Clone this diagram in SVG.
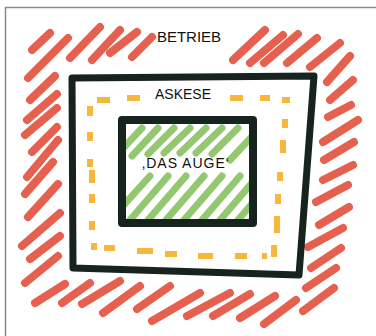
<svg xmlns="http://www.w3.org/2000/svg" width="376" height="336" viewBox="0 0 376 336">
<defs>
<style>
.red line{stroke:#e5604f;stroke-width:8;stroke-linecap:round}
.yel line{stroke:#f6b73c;stroke-width:6;stroke-linecap:butt}
.grn line{stroke:#93c871;stroke-width:7;stroke-linecap:round}
.blk{fill:none;stroke:#16231f;stroke-linejoin:round;stroke-linecap:round}
.lbl{font-family:"Liberation Sans",Arial,sans-serif;fill:#111;text-anchor:middle}
</style>
<clipPath id="inner"><rect x="126" y="124" width="123" height="95"/></clipPath>
</defs>
<rect width="376" height="336" fill="#fff"/>
<rect x="5.5" y="7.5" width="400" height="400" fill="none" stroke="#8a8a8a" stroke-width="1.5"/>

<g id="betrieb">
<g class="red">
<line x1="32" y1="50" x2="50" y2="33"/>
<line x1="28" y1="78" x2="68" y2="38"/>
<line x1="70" y1="58" x2="100" y2="27"/>
<line x1="92" y1="60" x2="120" y2="30"/>
<line x1="110" y1="53" x2="137" y2="32"/>
<line x1="132" y1="57" x2="152" y2="37"/>
<line x1="233" y1="60" x2="265" y2="30"/>
<line x1="250" y1="63" x2="283" y2="35"/>
<line x1="264" y1="63" x2="298" y2="34"/>
<line x1="287" y1="63" x2="317" y2="38"/>
<line x1="310" y1="67" x2="340" y2="43"/>
<line x1="327" y1="82" x2="350" y2="56"/>
<line x1="330" y1="100" x2="353" y2="80"/>
<line x1="328" y1="117" x2="351" y2="105"/>
<line x1="323" y1="142" x2="358" y2="120"/>
<line x1="324" y1="160" x2="354" y2="142"/>
<line x1="323" y1="180" x2="353" y2="165"/>
<line x1="316" y1="202" x2="348" y2="185"/>
<line x1="319" y1="225" x2="349" y2="207"/>
<line x1="308" y1="247" x2="343" y2="228"/>
<line x1="311" y1="268" x2="341" y2="248"/>
<line x1="306" y1="288" x2="336" y2="268"/>
<line x1="303" y1="311" x2="334" y2="288"/>
<line x1="264" y1="324" x2="296" y2="300"/>
<line x1="240" y1="318" x2="275" y2="296"/>
<line x1="213" y1="316" x2="250" y2="294"/>
<line x1="187" y1="316" x2="230" y2="293"/>
<line x1="152" y1="321" x2="200" y2="293"/>
<line x1="137" y1="309" x2="170" y2="286"/>
<line x1="103" y1="313" x2="140" y2="286"/>
<line x1="82" y1="304" x2="120" y2="281"/>
<line x1="62" y1="303" x2="90" y2="283"/>
<line x1="35" y1="303" x2="65" y2="284"/>
<line x1="25" y1="283" x2="58" y2="256"/>
<line x1="30" y1="259" x2="60" y2="236"/>
<line x1="22" y1="246" x2="60" y2="213"/>
<line x1="28" y1="217" x2="58" y2="184"/>
<line x1="25" y1="194" x2="53" y2="162"/>
<line x1="27" y1="177" x2="58" y2="140"/>
<line x1="32" y1="152" x2="57" y2="127"/>
<line x1="25" y1="135" x2="57" y2="108"/>
<line x1="27" y1="120" x2="57" y2="94"/>
<line x1="30" y1="100" x2="55" y2="76"/>
</g>
<text class="lbl" x="189" y="42" font-size="15">BETRIEB</text>
</g>

<g id="askese">
<path class="blk" stroke-width="7" d="M72,78 L314,76 L299,275 L73,268 Z"/>
<g class="yel">
<line x1="97" y1="100" x2="110" y2="100"/>
<line x1="127" y1="98" x2="140" y2="98"/>
<line x1="230" y1="98" x2="243" y2="98"/>
<line x1="260" y1="98" x2="270" y2="98"/>
<line x1="282" y1="100" x2="290" y2="100"/>
<line x1="285" y1="119" x2="285" y2="128"/>
<line x1="283" y1="140" x2="283" y2="153"/>
<line x1="280" y1="172" x2="280" y2="181"/>
<line x1="278" y1="194" x2="278" y2="204"/>
<line x1="277" y1="216" x2="277" y2="233"/>
<line x1="274" y1="245" x2="274" y2="257"/>
<line x1="262" y1="256" x2="267" y2="256"/>
<line x1="235" y1="256" x2="247" y2="256"/>
<line x1="198" y1="256" x2="213" y2="256"/>
<line x1="165" y1="254" x2="177" y2="254"/>
<line x1="137" y1="251" x2="153" y2="251"/>
<line x1="104" y1="248" x2="115" y2="248"/>
<line x1="94" y1="243" x2="94" y2="250"/>
<line x1="92" y1="221" x2="92" y2="230"/>
<line x1="92" y1="194" x2="92" y2="203"/>
<line x1="92" y1="170" x2="92" y2="183"/>
<line x1="90" y1="159" x2="90" y2="167"/>
<line x1="90" y1="132" x2="90" y2="141"/>
<line x1="90" y1="106" x2="90" y2="116"/>
</g>
<text class="lbl" x="183" y="99" font-size="14">ASKESE</text>
</g>

<g id="das-auge">
<g class="grn" clip-path="url(#inner)">
<line x1="116" y1="156" x2="142" y2="128"/>
<line x1="132" y1="156" x2="158" y2="128"/>
<line x1="148" y1="154" x2="174" y2="128"/>
<line x1="164" y1="153" x2="190" y2="128"/>
<line x1="180" y1="153" x2="206" y2="128"/>
<line x1="196" y1="153" x2="222" y2="128"/>
<line x1="212" y1="154" x2="238" y2="128"/>
<line x1="230" y1="160" x2="256" y2="132"/>
<line x1="112" y1="218" x2="150" y2="176"/>
<line x1="130" y1="220" x2="168" y2="176"/>
<line x1="148" y1="220" x2="186" y2="176"/>
<line x1="166" y1="220" x2="204" y2="176"/>
<line x1="184" y1="220" x2="222" y2="176"/>
<line x1="202" y1="220" x2="240" y2="176"/>
<line x1="220" y1="220" x2="258" y2="176"/>
<line x1="238" y1="220" x2="262" y2="192"/>
</g>
<rect class="blk" x="122" y="120" width="131" height="103" stroke-width="8"/>
<text class="lbl" x="186" y="168" font-size="14" letter-spacing="1">‚DAS AUGE‘</text>
</g>
</svg>
